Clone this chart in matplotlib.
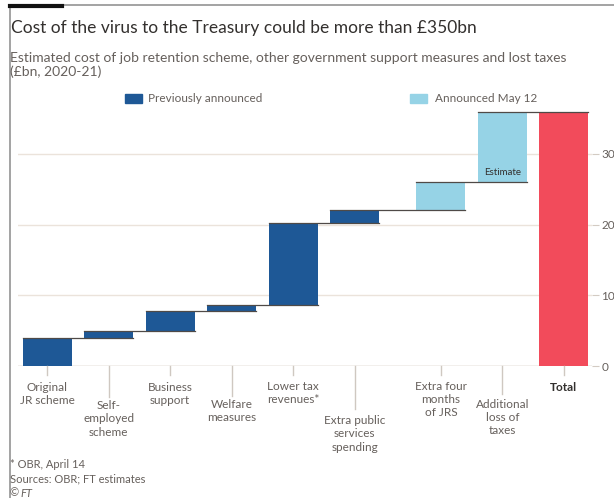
import numpy as np
import matplotlib
matplotlib.use('Agg')
import matplotlib.pyplot as plt
from matplotlib import transforms
from matplotlib.lines import Line2D
from matplotlib.patches import Rectangle

plt.rcParams['font.family'] = ['Lato', 'DejaVu Sans']

# %%
# data (£bn)
categories = ['Original\nJR scheme', 'Self-\nemployed\nscheme', 'Business\nsupport',
              'Welfare\nmeasures', 'Lower tax\nrevenues*', 'Extra public\nservices\nspending',
              'Extra four\nmonths\nof JRS', 'Additional\nloss of\ntaxes', 'Total']
increments = [39, 10, 29, 8, 116, 18, 40, 99]
announced = ['prev', 'prev', 'prev', 'prev', 'prev', 'prev', 'may', 'may']
total = 359
yticks = [0, 100, 200, 300]

DARK = '#1e5896'
LIGHT = '#96d3e6'
RED = '#f24b5b'
GREY_TXT = '#66605c'
INK = '#33302e'

# %%
W, H = 614, 498
fig = plt.figure(figsize=(W / 100, H / 100), dpi=100)

def fx(px):
    return px / W

def fy(py):
    return 1 - py / H

ax = fig.add_axes([fx(18), fy(366), fx(591.5) - fx(18), fy(104.4) - fy(366)])

# bar slots: a wider gap before the May 12 measures
x = np.arange(len(categories)) + np.where(np.arange(len(categories)) >= 6, 0.4, 0.0)
width = 0.8

cum = np.cumsum(increments)
bottoms = cum - np.array(increments)
colors = [DARK if a == 'prev' else LIGHT for a in announced]
ax.bar(x[:-1], increments, bottom=bottoms, width=width, color=colors, zorder=2)
ax.bar(x[-1], total, width=width, color=RED, zorder=2)

# connectors between steps
for i in range(len(increments)):
    ax.plot([x[i] - width / 2, x[i + 1] + width / 2], [cum[i], cum[i]],
            color='#4f4a47', lw=0.9, zorder=3)

ax.text(x[7], 273, 'Estimate', ha='center', va='center', size=7, color=INK, zorder=4)

ax.set_xlim(-0.475, 8.85)
ax.set_ylim(0, 370)
ax.set_yticks(yticks)
ax.yaxis.tick_right()
ax.tick_params(axis='y', length=5, color='#d3cbc3', labelcolor=GREY_TXT,
               labelsize=8.5, pad=2)
ax.set_xticks([])
ax.grid(axis='y', color='#ebe3db', lw=1)
ax.set_axisbelow(True)
for s in ax.spines.values():
    s.set_visible(False)
ax.axhline(0, color='#cfc8c1', lw=1, zorder=1)

# category ticks dropping down to their labels
trans = transforms.blended_transform_factory(ax.transData, fig.transFigure)
tick_end = [375, 397, 375, 396, 375, 409, 375, 394, 375]
label_top = [382, 400, 382, 399, 381, 415, 381, 399, 382]
for i, lab in enumerate(categories):
    ax.plot([x[i], x[i]], [fy(366), fy(tick_end[i])], transform=trans,
            color='#cfc8c1', lw=1, clip_on=False)
    bold = lab == 'Total'
    ax.text(x[i], fy(label_top[i]), lab, transform=trans, ha='center', va='top',
            size=8.5, linespacing=1.25, color=INK if bold else GREY_TXT,
            fontweight='bold' if bold else 'normal')

# %%
# header
fig.text(fx(11), fy(28), 'Cost of the virus to the Treasury could be more than £350bn',
         size=12.5, color=INK, va='center')
fig.text(fx(10), fy(65), 'Estimated cost of job retention scheme, other government support measures and lost taxes\n(£bn, 2020-21)',
         size=10, color=GREY_TXT, va='center', linespacing=1.2)

fig.add_artist(Rectangle((fx(124.5), fy(103)), 17 / W, 9 / H, transform=fig.transFigure, color=DARK))
fig.text(fx(148.5), fy(98), 'Previously announced', size=8.5, color=GREY_TXT, va='center')
fig.add_artist(Rectangle((fx(410), fy(103)), 17 / W, 9 / H, transform=fig.transFigure, color=LIGHT))
fig.text(fx(435), fy(98), 'Announced May 12', size=8.5, color=GREY_TXT, va='center')

# footer
fig.text(fx(10), fy(465), '* OBR, April 14', size=8, color=GREY_TXT, va='center')
fig.text(fx(10), fy(479), 'Sources: OBR; FT estimates', size=8, color=GREY_TXT, va='center')
fig.text(fx(10), fy(493), '©', size=8, color=GREY_TXT, va='center')
fig.text(fx(20), fy(493), 'FT', size=8, color=GREY_TXT, va='center', style='italic')

# frame
fig.add_artist(Line2D([fx(10), fx(10)], [fy(5), 0], color='#9c9c9c', lw=1.3))
fig.add_artist(Line2D([fx(10), 1], [fy(5.5), fy(5.5)], color='#9c9c9c', lw=1.3))
fig.add_artist(Line2D([fx(10), fx(62)], [fy(6), fy(6)], color='#111111', lw=3))

fig.savefig('out.png', dpi=100)
